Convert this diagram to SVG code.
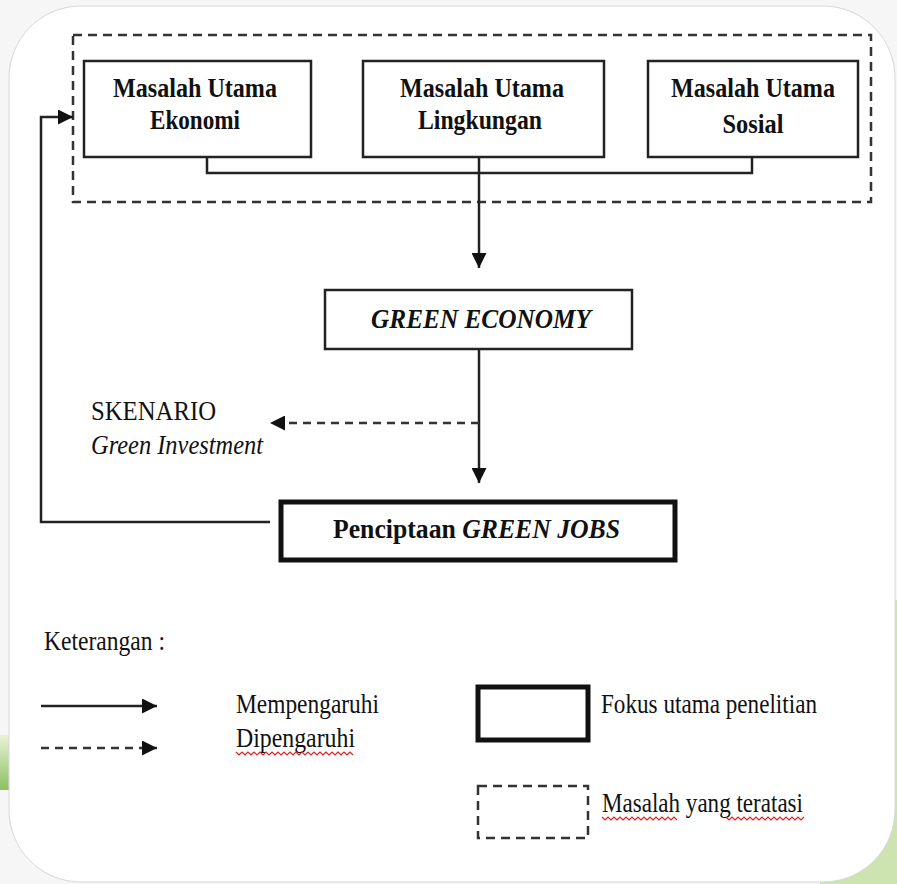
<svg xmlns="http://www.w3.org/2000/svg" width="897" height="884" viewBox="0 0 897 884">
<defs>
<style>
.box{fill:#fff;stroke:#222;stroke-width:2.5}
.thick{fill:#fff;stroke:#111;stroke-width:5}
.dash{fill:none;stroke:#333;stroke-width:2.5;stroke-dasharray:9 6}
.ln{fill:none;stroke:#222;stroke-width:2.5}
.dl{fill:none;stroke:#333;stroke-width:2.5;stroke-dasharray:8 6}
.t{font-family:"Liberation Serif","Times New Roman",serif;font-size:28px;fill:#111}
.b{font-weight:bold}
.i{font-style:italic}
.sq{fill:none;stroke:#e02020;stroke-width:1.2}
</style>
<marker id="ah" viewBox="0 0 10 10" refX="10" refY="5" markerWidth="15" markerHeight="15" markerUnits="userSpaceOnUse" orient="auto">
<path d="M0,0 L10,5 L0,10 z" fill="#111"/>
</marker>
<linearGradient id="gr" x1="0" y1="0" x2="0" y2="1">
<stop offset="0" stop-color="#e8f2d8"/>
<stop offset="1" stop-color="#8cc060"/>
</linearGradient>
</defs>
<rect x="0" y="0" width="897" height="884" fill="#f6f6f6"/>
<rect x="0" y="735" width="12" height="55" fill="url(#gr)"/>
<rect x="820" y="600" width="77" height="284" fill="#cde3b0"/>
<rect x="9" y="6" width="886" height="876" rx="72" ry="72" fill="#fff" stroke="#d8d8d8" stroke-width="1"/>

<rect id="problems" class="dash" x="73" y="35" width="798" height="167"/>

<g id="connectors">
<polyline class="ln" points="207,157 207,173 752,173 752,157"/>
<line class="ln" x1="479" y1="157" x2="479" y2="268" marker-end="url(#ah)"/>
<line class="ln" x1="479" y1="349" x2="479" y2="483" marker-end="url(#ah)"/>
<line class="dl" x1="479" y1="423" x2="270" y2="423" marker-end="url(#ah)"/>
<polyline class="ln" points="270,522 41,522 41,117 73,117" marker-end="url(#ah)"/>
</g>

<g id="ekonomi">
<rect class="box" x="84" y="61" width="227" height="96"/>
<text class="t b" x="195" y="97" text-anchor="middle" textLength="164" lengthAdjust="spacingAndGlyphs">Masalah Utama</text>
<text class="t b" x="195" y="129" text-anchor="middle" textLength="90" lengthAdjust="spacingAndGlyphs">Ekonomi</text>
</g>
<g id="lingkungan">
<rect class="box" x="363" y="61" width="241" height="96"/>
<text class="t b" x="482" y="97" text-anchor="middle" textLength="164" lengthAdjust="spacingAndGlyphs">Masalah Utama</text>
<text class="t b" x="480" y="129" text-anchor="middle" textLength="124" lengthAdjust="spacingAndGlyphs">Lingkungan</text>
</g>
<g id="sosial">
<rect class="box" x="648" y="61" width="210" height="96"/>
<text class="t b" x="753" y="97" text-anchor="middle" textLength="164" lengthAdjust="spacingAndGlyphs">Masalah Utama</text>
<text class="t b" x="753" y="133" text-anchor="middle" textLength="61" lengthAdjust="spacingAndGlyphs">Sosial</text>
</g>
<g id="green-economy">
<rect class="box" x="325" y="290" width="307" height="59"/>
<text class="t b i" x="481" y="328" text-anchor="middle" textLength="220" lengthAdjust="spacingAndGlyphs">GREEN ECONOMY</text>
</g>
<g id="skenario">
<text class="t" x="91" y="420" textLength="125" lengthAdjust="spacingAndGlyphs">SKENARIO</text>
<text class="t i" x="91" y="454" textLength="172" lengthAdjust="spacingAndGlyphs">Green Investment</text>
</g>
<g id="green-jobs">
<rect class="thick" x="281" y="502" width="394" height="58"/>
<text class="t b" x="333" y="538" textLength="287" lengthAdjust="spacingAndGlyphs">Penciptaan <tspan class="i">GREEN JOBS</tspan></text>
</g>

<g id="legend">
<text class="t" x="44" y="650" textLength="121" lengthAdjust="spacingAndGlyphs">Keterangan :</text>
<line class="ln" x1="41" y1="706" x2="157" y2="706" marker-end="url(#ah)"/>
<line class="dl" x1="41" y1="748" x2="157" y2="748" marker-end="url(#ah)"/>
<text class="t" x="236" y="713" textLength="143" lengthAdjust="spacingAndGlyphs">Mempengaruhi</text>
<text class="t" x="236" y="747" textLength="119" lengthAdjust="spacingAndGlyphs">Dipengaruhi</text>
<path class="sq" d="M236,752 l3,3 l3,-3 l3,3 l3,-3 l3,3 l3,-3 l3,3 l3,-3 l3,3 l3,-3 l3,3 l3,-3 l3,3 l3,-3 l3,3 l3,-3 l3,3 l3,-3 l3,3 l3,-3 l3,3 l3,-3 l3,3 l3,-3 l3,3 l3,-3 l3,3 l3,-3 l3,3 l3,-3 l3,3 l3,-3 l3,3 l3,-3 l3,3 l3,-3 l3,3 l3,-3 l3,3"/>
<rect class="thick" x="478" y="687" width="110" height="53"/>
<text class="t" x="601" y="713" textLength="216" lengthAdjust="spacingAndGlyphs">Fokus utama penelitian</text>
<rect class="dash" x="478" y="786" width="110" height="52"/>
<text class="t" x="602" y="812" textLength="201" lengthAdjust="spacingAndGlyphs">Masalah yang teratasi</text>
<path class="sq" d="M602,817 l3,3 l3,-3 l3,3 l3,-3 l3,3 l3,-3 l3,3 l3,-3 l3,3 l3,-3 l3,3 l3,-3 l3,3 l3,-3 l3,3 l3,-3 l3,3 l3,-3 l3,3 l3,-3 l3,3 l3,-3 l3,3 l3,-3 l3,3"/>
<path class="sq" d="M726,817 l3,3 l3,-3 l3,3 l3,-3 l3,3 l3,-3 l3,3 l3,-3 l3,3 l3,-3 l3,3 l3,-3 l3,3 l3,-3 l3,3 l3,-3 l3,3 l3,-3 l3,3 l3,-3 l3,3 l3,-3 l3,3 l3,-3 l3,3 l3,-3"/>
</g>
</svg>
